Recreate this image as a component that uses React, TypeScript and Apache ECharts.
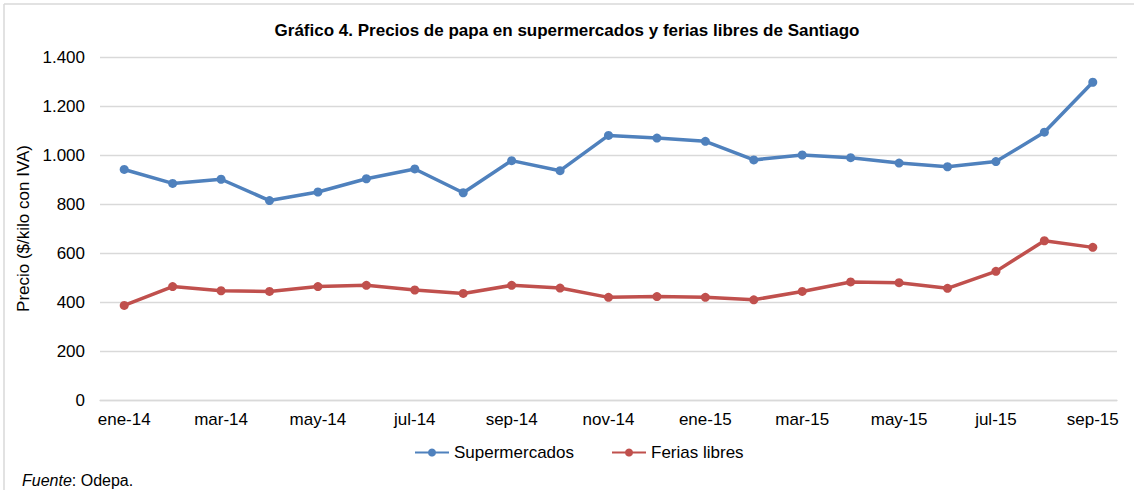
import React, { useEffect, useRef } from "react";
import * as echarts from "echarts";

const categories = [
  "ene-14", "feb-14", "mar-14", "abr-14", "may-14", "jun-14", "jul-14", "ago-14", "sep-14", "oct-14", "nov-14", "dic-14",
  "ene-15", "feb-15", "mar-15", "abr-15", "may-15", "jun-15", "jul-15", "ago-15", "sep-15",
];
const supermercados = [941, 884, 901, 814, 849, 903, 943, 846, 977, 936, 1080, 1069, 1056, 980, 1000, 989, 967, 952, 973, 1093, 1297];
const feriasLibres = [386, 463, 446, 443, 463, 468, 449, 435, 468, 457, 419, 422, 419, 409, 443, 482, 479, 456, 525, 650, 623];

const FONT = "'Liberation Sans', Arial, sans-serif";

export default function App() {
  const ref = useRef<HTMLDivElement>(null);
  useEffect(() => {
    if (!ref.current) return;
    const chart = echarts.init(ref.current, null, { renderer: "svg" });
    chart.setOption({
      animation: false,
      backgroundColor: "#ffffff",
      textStyle: { fontFamily: FONT },
      title: {
        text: "Gráfico 4. Precios de papa en supermercados y ferias libres de Santiago",
        left: "center",
        top: 17,
        textStyle: { fontFamily: FONT, fontSize: 17, fontWeight: "bold", color: "#000" },
      },
      legend: {
        bottom: 24,
        left: 409,
        itemWidth: 34,
        itemHeight: 10,
        itemGap: 37,
        textStyle: { fontFamily: FONT, fontSize: 17, color: "#000" },
        data: ["Supermercados", "Ferias libres"],
      },
      grid: { left: 100, right: 17, top: 57, bottom: 90, containLabel: false },
      xAxis: {
        type: "category",
        data: categories,
        boundaryGap: true,
        axisLine: { lineStyle: { color: "#d9d9d9", width: 1.3 } },
        axisTick: { show: false },
        axisLabel: { interval: 1, fontFamily: FONT, fontSize: 17, color: "#000", margin: 11 },
      },
      yAxis: {
        type: "value",
        min: 0,
        max: 1400,
        interval: 200,
        name: "Precio ($/kilo con IVA)",
        nameLocation: "middle",
        nameGap: 60,
        nameTextStyle: { fontFamily: FONT, fontSize: 17, color: "#000" },
        axisLine: { show: false },
        axisTick: { show: false },
        splitLine: { lineStyle: { color: "#d9d9d9", width: 1.3 } },
        axisLabel: {
          fontFamily: FONT,
          fontSize: 17,
          color: "#000",
          margin: 15,
          formatter: (v: number) => String(v).replace(/\B(?=(\d{3})+(?!\d))/g, "."),
        },
      },
      series: [
        {
          name: "Supermercados",
          type: "line",
          data: supermercados,
          symbol: "circle",
          symbolSize: 9,
          lineStyle: { color: "#4f81bd", width: 3.5 },
          itemStyle: { color: "#4f81bd" },
        },
        {
          name: "Ferias libres",
          type: "line",
          data: feriasLibres,
          symbol: "circle",
          symbolSize: 9,
          lineStyle: { color: "#c0504d", width: 3.5 },
          itemStyle: { color: "#c0504d" },
        },
      ],
      graphic: [
        { type: "line", shape: { x1: 4, y1: 4, x2: 1134, y2: 4 }, style: { stroke: "#d9d9d9", lineWidth: 1.5 } },
        { type: "line", shape: { x1: 4, y1: 4, x2: 4, y2: 490 }, style: { stroke: "#d9d9d9", lineWidth: 1.5 } },
        {
          type: "text",
          left: 22,
          top: 472,
          style: {
            rich: {
              i: { fontFamily: FONT, fontSize: 16, fontStyle: "italic", fill: "#000" },
              n: { fontFamily: FONT, fontSize: 16, fill: "#000" },
            },
            text: "{i|Fuente}{n|: Odepa.}",
          },
        },
      ],
    });
    return () => chart.dispose();
  }, []);
  return <div ref={ref} style={{ width: 1134, height: 490, position: "absolute", left: 0, top: 0 }} />;
}
